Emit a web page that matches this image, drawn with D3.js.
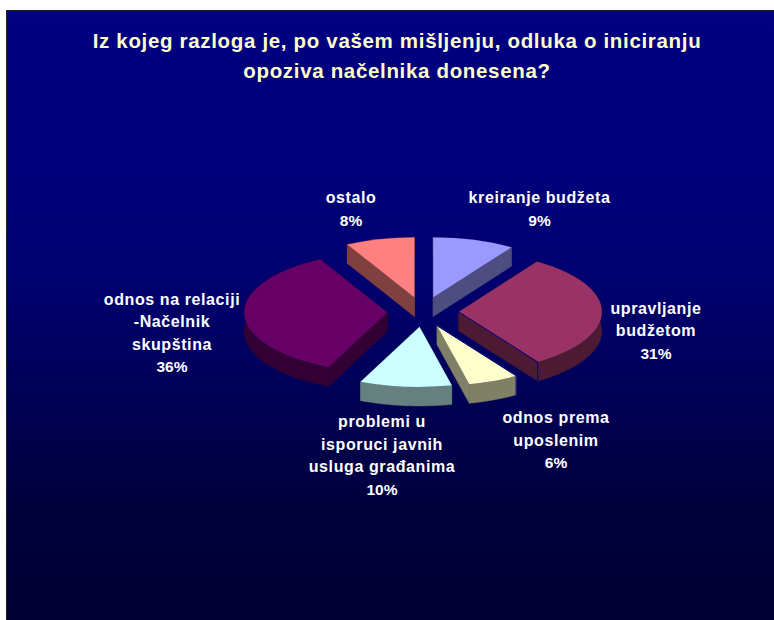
<!DOCTYPE html>
<html><head><meta charset="utf-8">
<script src="https://cdn.jsdelivr.net/npm/d3@7"></script>
<style>html,body{margin:0;padding:0;background:#fff}svg{display:block}
text{font-family:"Liberation Sans",Arial,sans-serif;font-weight:bold}</style></head>
<body><svg id="c" width="774" height="620"></svg>
<script>
const titleLines = ["Iz kojeg razloga je, po vašem mišljenju, odluka o iniciranju", "opoziva načelnika donesena?"];
const categories = [["kreiranje budžeta"], ["upravljanje", "budžetom"], ["odnos prema", "uposlenim"], ["problemi u", "isporuci javnih", "usluga građanima"], ["odnos na relaciji", "-Načelnik", "skupština"], ["ostalo"]];
const values = [9.2, 31.49, 5.7, 10.35, 35.5, 7.76];
const topColors = ["#9999FF", "#993366", "#FFFFCC", "#CCFFFF", "#660066", "#FF8080"];

// layout
const W = 774, H = 620, cx = 423, cy = 312, rx = 143, ry = 60, depth = 19, explode = 0.25;
const labelAnchors = [[539.5, 203], [656, 313.5], [556, 423], [382, 427], [172, 304.5], [351, 203]];
const lineGap = 22.6;
const bgStops = [[0, "#000080"], [.25, "#00007c"], [.45, "#00006e"], [.6, "#00005a"], [.75, "#000044"], [.9, "#000037"], [1, "#000033"]];
const edgedWall = { 1: "end", 2: "start" };

const svg = d3.select("#c");
const grad = svg.append("defs").append("linearGradient").attr("id", "bg")
  .attr("x1", 0).attr("y1", 0).attr("x2", 0).attr("y2", 1);
grad.selectAll("stop").data(bgStops).join("stop")
  .attr("offset", d => d[0]).attr("stop-color", d => d[1]);

svg.append("rect").attr("x", 6).attr("y", 10).attr("width", W - 6).attr("height", H - 10).attr("fill", "#222");
svg.append("rect").attr("x", 7).attr("y", 11).attr("width", W - 7).attr("height", H - 11).attr("fill", "url(#bg)");

svg.append("g").selectAll("text").data(titleLines).join("text")
  .attr("x", 397).attr("y", (d, i) => 47.5 + i * 30)
  .attr("text-anchor", "middle").attr("fill", "#FFFFCC")
  .attr("font-size", 20.5).attr("letter-spacing", 0.67).text(d => d);

const pie = d3.pie().sort(null).value(d => d)(values);
const px = a => rx * Math.sin(a), py = a => -ry * Math.cos(a);
const line = d3.line();
const arcPath = d3.arc().innerRadius(0).outerRadius(1);

const slices = svg.append("g").selectAll("g").data(pie).join("g")
  .attr("transform", d => {
    const m = (d.startAngle + d.endAngle) / 2;
    return `translate(${cx + explode * px(m)},${cy + explode * py(m)})`;
  });

slices.each(function (d, i) {
  const g = d3.select(this);
  const top = d3.color(topColors[i]);
  const side = d3.rgb(top.r / 2, top.g / 2, top.b / 2).formatHex();
  const n = 60, pts = d3.range(n + 1).map(k => d.startAngle + (d.endAngle - d.startAngle) * k / n);
  const outer = pts.map(a => [px(a), py(a)]);
  const walls = [
    [[0, 0], outer[0], [outer[0][0], outer[0][1] + depth], [0, depth]],
    [[0, 0], outer[n], [outer[n][0], outer[n][1] + depth], [0, depth]],
    outer.concat(outer.slice().reverse().map(p => [p[0], p[1] + depth]))
  ];
  g.selectAll("path.wall").data(walls).join("path").attr("class", "wall")
    .attr("d", w => line(w) + "Z").attr("fill", side)
    .attr("stroke", side).attr("stroke-width", 0.5);
  g.append("path").attr("d", arcPath(d)).attr("transform", `scale(${rx},${ry})`)
    .attr("fill", topColors[i]);
  if (edgedWall[i]) {
    const c = edgedWall[i] === "end" ? outer[n] : outer[0];
    g.append("path").attr("d", line([[0, 0], c, [c[0], c[1] + depth]]))
      .attr("fill", "none").attr("stroke", "#000080").attr("stroke-width", 1);
  }
});

const labels = svg.append("g").selectAll("text").data(categories).join("text")
  .attr("text-anchor", "middle").attr("fill", "#FFFFFF").attr("font-size", 16);
labels.each(function (lines, i) {
  const all = lines.map(t => ({ t, ls: 0.6, fs: 16 })).concat([{ t: Math.round(values[i]) + "%", ls: 0, fs: 15.5 }]);
  d3.select(this).selectAll("tspan").data(all).join("tspan")
    .attr("x", labelAnchors[i][0]).attr("y", (d, k) => labelAnchors[i][1] + k * lineGap)
    .attr("letter-spacing", d => d.ls).attr("font-size", d => d.fs).text(d => d.t);
});
</script></body></html>
